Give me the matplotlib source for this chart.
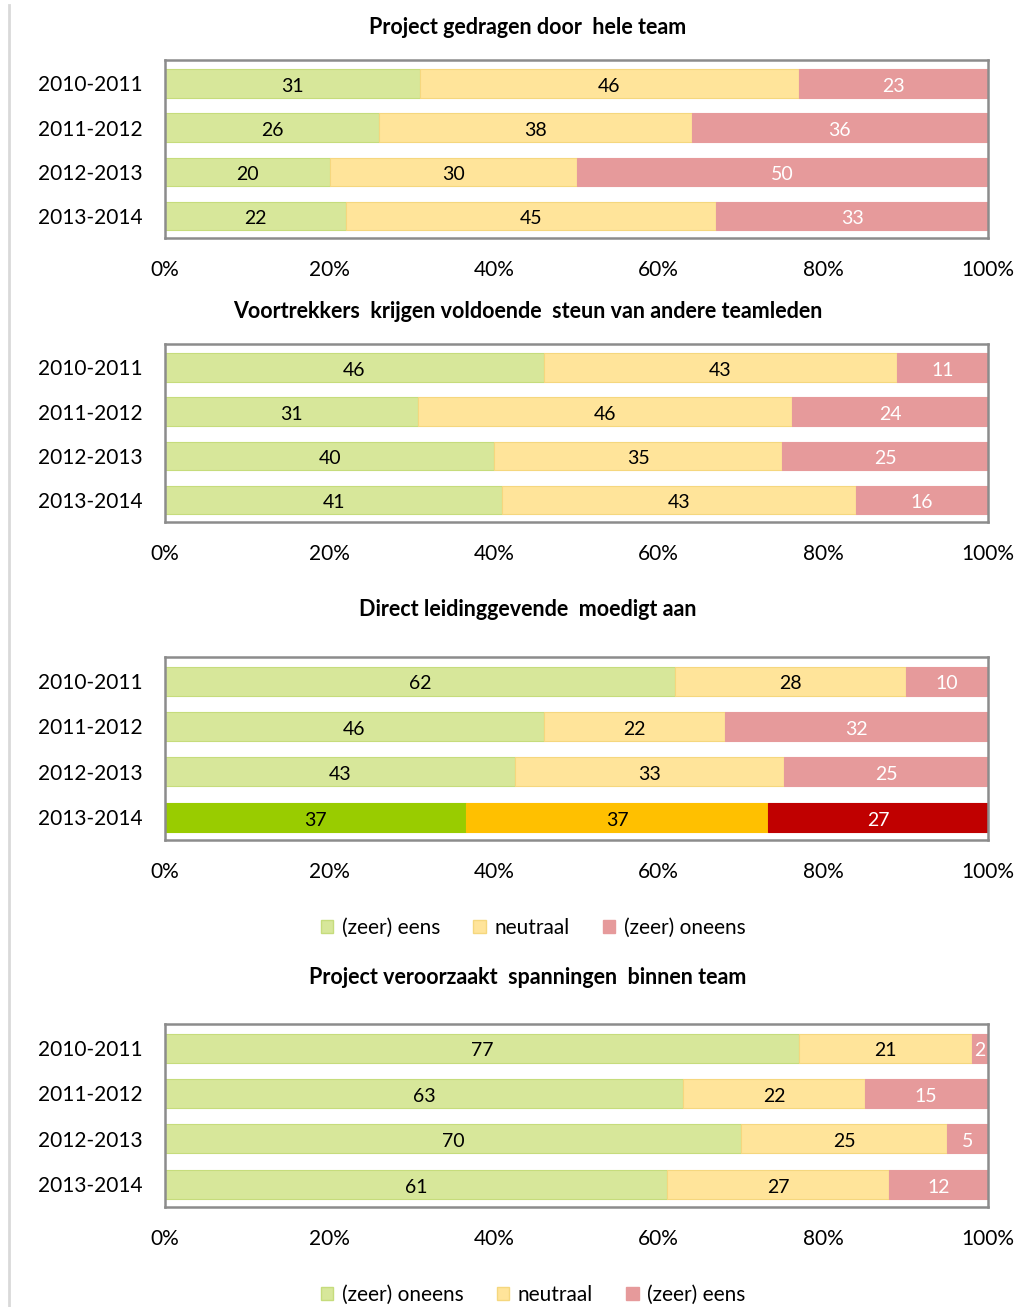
import matplotlib.pyplot as plt
import matplotlib.patches as pat
from matplotlib.lines import Line2D
from matplotlib.ticker import PercentFormatter

plt.rcParams['font.family'] = ['Lato', 'DejaVu Sans']

years = ['2010-2011', '2011-2012', '2012-2013', '2013-2014']

titles = ['Project gedragen door  hele team',
          'Voortrekkers  krijgen voldoende  steun van andere teamleden',
          'Direct leidinggevende  moedigt aan',
          'Project veroorzaakt  spanningen  binnen team']

# percentages per year: first, middle, last segment
p1_first = [31, 26, 20, 22]
p1_mid = [46, 38, 30, 45]
p1_last = [23, 36, 50, 33]

p2_first = [46, 31, 40, 41]
p2_mid = [43, 46, 35, 43]
p2_last = [11, 24, 25, 16]

p3_first = [62, 46, 43, 37]
p3_mid = [28, 22, 33, 37]
p3_last = [10, 32, 25, 27]

p4_first = [77, 63, 70, 61]
p4_mid = [21, 22, 25, 27]
p4_last = [2, 15, 5, 12]

legend_a = ['(zeer) eens', 'neutraal', '(zeer) oneens']
legend_b = ['(zeer) oneens', 'neutraal', '(zeer) eens']

light = ['#D7E79A', '#FFE49A', '#E69A9B']
edges = ['#C6DC7C', '#F5D77E', '#E69A9B']
strong = ['#99CC00', '#FFC000', '#C00000']

panels = [
    (p1_first, p1_mid, p1_last),
    (p2_first, p2_mid, p2_last),
    (p3_first, p3_mid, p3_last),
    (p4_first, p4_mid, p4_last),
]

W, H = 1016, 1307
# axes boxes in pixels: top, bottom
boxes = [(60, 238), (344, 522), (657, 840), (1024, 1207)]
title_y = [28, 312, 610, 977]
x0, x1 = 165, 988

fig = plt.figure(figsize=(W / 100, H / 100), dpi=100)
fig.add_artist(Line2D([9 / W, 9 / W], [0, 1 - 5 / H], color='#D9D9D9', lw=2))

for k, (first, mid, last) in enumerate(panels):
    top, bot = boxes[k]
    ax = fig.add_axes([x0 / W, 1 - bot / H, (x1 - x0) / W, (bot - top) / H])
    for i in range(len(years)):
        vals = [first[i], mid[i], last[i]]
        total = float(sum(vals))
        left = 0
        for j, v in enumerate(vals):
            w = v / total
            if k == 2 and i == 3:
                fc, ec = strong[j], strong[j]
            else:
                fc, ec = light[j], edges[j]
            ax.barh(i, w, left=left, height=0.64, color=fc, edgecolor=ec, linewidth=0.8)
            tc = 'white' if j == 2 else 'black'
            ax.text(left + w / 2, i + 0.03, str(v), ha='center', va='center_baseline',
                    fontsize=14, color=tc)
            left += w
    ax.set_xlim(0, 1)
    ax.set_ylim(3.5, -0.53)
    ax.set_yticks(range(len(years)))
    ax.set_yticklabels(years, fontsize=15)
    ax.set_xticks([0, 0.2, 0.4, 0.6, 0.8, 1.0])
    ax.xaxis.set_major_formatter(PercentFormatter(1.0, decimals=0))
    ax.tick_params(axis='x', length=0, pad=16, labelsize=15)
    ax.tick_params(axis='y', length=0, pad=16)
    for s in ax.spines.values():
        s.set_color('#8C8C8C')
        s.set_linewidth(1.8)
    fig.text(528 / W, 1 - title_y[k] / H, titles[k], ha='center', va='center',
             fontsize=15.5, fontweight='bold')

def add_legend(labels, y):
    handles = [pat.Patch(facecolor=light[j], edgecolor=edges[j], label=labels[j])
               for j in range(3)]
    fig.legend(handles=handles, loc='center', bbox_to_anchor=(533 / W, 1 - y / H),
               ncol=3, frameon=False, fontsize=15, handlelength=0.6,
               handleheight=0.6, handletextpad=0.4, columnspacing=1.6)

add_legend(legend_a, 928)
add_legend(legend_b, 1295)

plt.savefig('out.png', dpi=100)
